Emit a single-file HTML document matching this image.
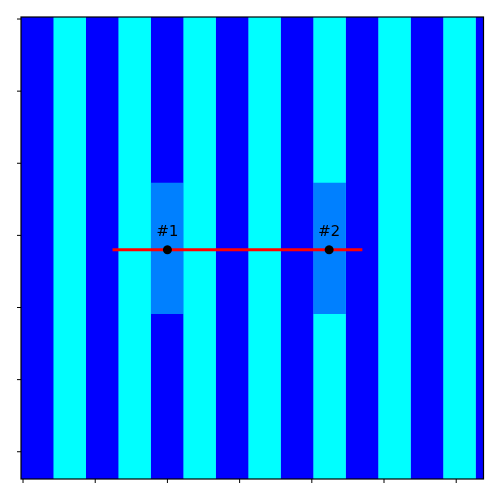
<!DOCTYPE html>
<html><head><meta charset="utf-8"><style>
body{margin:0;background:#fff;font-family:"DejaVu Sans","Liberation Sans",sans-serif}
</style></head><body>
<svg id="chart" width="500" height="500"></svg>
<script>
const stripeStarts=[-2.8,42.2,87.2,132.2,177.2,222.2,267.2,312.2,357.2,402.2,447.2,492.2,537.2,582.2,627.2];
const stripeKinds=[0,1,0,1,0,1,0,1,0,1,0,1,0,1,0];
const highlightStripes=[4,9];
const highlightY=[227,409];
const pointX=[200,424];
const pointY=[320,320];
const pointLabels=["#1","#2"];
const lineX=[124,470];
const xTicks=[0,100,200,300,400,500,600];
const yTicks=[0,100,200,300,400,500,600];
const stripeW=45;
const X0=21,X1=483.5,Y0=17,Y1=479,DMIN=-2.8,DMAX=637.8;
const sx=v=>X0+(v-DMIN)/(DMAX-DMIN)*(X1-X0);
const sy=v=>Y0+(v-DMIN)/(DMAX-DMIN)*(Y1-Y0);
const svg=document.getElementById('chart');const NS='http://www.w3.org/2000/svg';
function mk(t,a){const e=document.createElementNS(NS,t);for(const k in a)e.setAttribute(k,a[k]);svg.appendChild(e);return e;}
const cols=['#0000ff','#00ffff'];
stripeStarts.forEach((s,i)=>{const a=sx(Math.max(s,DMIN)),b=sx(Math.min(s+stripeW,DMAX));
const r=mk('rect',{x:a,y:Y0,width:b-a,height:Y1-Y0,fill:cols[stripeKinds[i]]});

});
highlightStripes.forEach((i,k)=>{const s=stripeStarts[i];
const r=mk('rect',{x:sx(s),y:sy(highlightY[0]),width:sx(s+stripeW)-sx(s),height:sy(highlightY[1])-sy(highlightY[0]),fill:'#0080ff'});

});
const ln=mk('line',{x1:sx(lineX[0]),x2:sx(lineX[1]),y1:sy(pointY[0]),y2:sy(pointY[1]),stroke:'#ff0000','stroke-width':3});


pointX.forEach((x,i)=>{const c=mk('circle',{cx:sx(x),cy:sy(pointY[i]),r:4.5,fill:'#000'});


const t=mk('text',{x:sx(x),y:sy(pointY[i])-14,'text-anchor':'middle','font-size':15,fill:'#000'});t.textContent=pointLabels[i];

});
const fr=mk('rect',{x:X0,y:Y0,width:X1-X0,height:Y1-Y0,fill:'none',stroke:'#000','stroke-width':1.2});


xTicks.forEach(v=>{const l=mk('line',{x1:sx(v),x2:sx(v),y1:Y1,y2:Y1+4,stroke:'#000','stroke-width':1});

});
yTicks.forEach(v=>{const l=mk('line',{x1:X0-4,x2:X0,y1:sy(v),y2:sy(v),stroke:'#000','stroke-width':1});

});
</script>
</body></html>
